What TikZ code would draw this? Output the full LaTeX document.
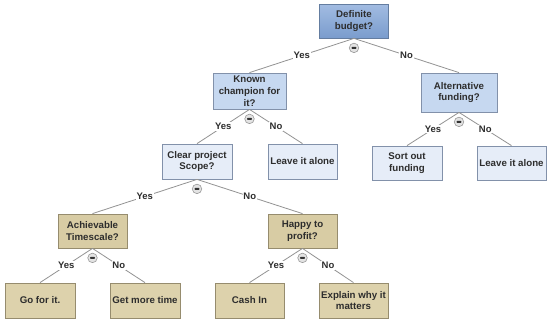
\documentclass[tikz,border=0pt]{standalone}
\usepackage{fontspec}
\setmainfont{Liberation Sans}
\definecolor{rootTop}{RGB}{162,188,226}
\definecolor{rootBot}{RGB}{122,156,205}
\definecolor{rootLine}{RGB}{100,125,160}
\definecolor{blueB}{RGB}{198,216,240}
\definecolor{blueC}{RGB}{230,237,248}
\definecolor{blueLine}{RGB}{130,145,170}
\definecolor{tanD}{RGB}{216,204,164}
\definecolor{tanE}{RGB}{221,210,172}
\definecolor{tanLine}{RGB}{150,140,110}
\definecolor{txt}{RGB}{45,45,45}
\begin{document}
\begin{tikzpicture}[x=1pt,y=-1pt,
  font=\fontsize{9.7}{11.8}\selectfont\bfseries,
  box/.style={draw=#1, line width=0.8pt, align=center, inner sep=1pt, text=txt},
  lvA/.style={box=rootLine, top color=rootTop, bottom color=rootBot},
  lvB/.style={box=blueLine, fill=blueB},
  lvC/.style={box=blueLine, fill=blueC},
  lvD/.style={box=tanLine, fill=tanD},
  lvE/.style={box=tanLine, fill=tanE},
  conn/.style={draw=gray!85, line width=0.8pt},
  lbl/.style={fill=white, inner sep=0.8pt, text=txt, font=\fontsize{9.5}{11}\selectfont\bfseries},
  tog/.style={circle, draw=gray!80, line width=0.6pt, fill=gray!22, minimum size=9.5pt, inner sep=0pt}
]
\useasboundingbox (0,0) rectangle (550,330);
\fill[white] (0,0) rectangle (550,330);

\node[lvA, minimum width=69pt, minimum height=34pt] (root) at (354,21) {Definite\\budget?};
\node[lvB, minimum width=73pt, minimum height=36pt] (champ) at (249.5,91) {Known\\champion for\\it?};
\node[lvB, minimum width=76pt, minimum height=39pt] (altf) at (459,92.5) {Alternative\\funding?};
\node[lvC, minimum width=70pt, minimum height=35pt] (clear) at (197,161.5) {Clear project\\Scope?};
\node[lvC, minimum width=69pt, minimum height=35pt] (leavea) at (302.5,161.5) {Leave it alone};
\node[lvC, minimum width=70pt, minimum height=34pt] (sort) at (407,163) {Sort out\\funding};
\node[lvC, minimum width=69pt, minimum height=34pt] (leaveb) at (511.5,163) {Leave it alone};
\node[lvD, minimum width=69pt, minimum height=34pt] (achiev) at (92.5,231) {Achievable\\Timescale?};
\node[lvD, minimum width=69pt, minimum height=34pt] (happy) at (302.5,231) {Happy to\\profit?};
\node[lvE, minimum width=70pt, minimum height=35pt] (go) at (40,300.5) {Go for it.};
\node[lvE, minimum width=70pt, minimum height=35pt] (more) at (145,300.5) {Get more time};
\node[lvE, minimum width=69pt, minimum height=35pt] (cash) at (249.5,300.5) {Cash In};
\node[lvE, minimum width=69pt, minimum height=35pt] (explain) at (353.5,300.5) {Explain why it\\matters};

\foreach \p/\a/\b in {root/champ/altf, champ/clear/leavea, altf/sort/leaveb, clear/achiev/happy, achiev/go/more, happy/cash/explain}{
  \draw[conn] (\p.south) -- node[lbl]{Yes} (\a.north);
  \draw[conn] (\p.south) -- node[lbl]{No} (\b.north);
  \node[tog] (t\p) at ([yshift=-9.5pt]\p.south) {};
  \fill[black!80, rounded corners=0.6pt] ([xshift=-2.4pt,yshift=-1pt]t\p.center) rectangle ([xshift=2.4pt,yshift=1pt]t\p.center);
}
\end{tikzpicture}
\end{document}
